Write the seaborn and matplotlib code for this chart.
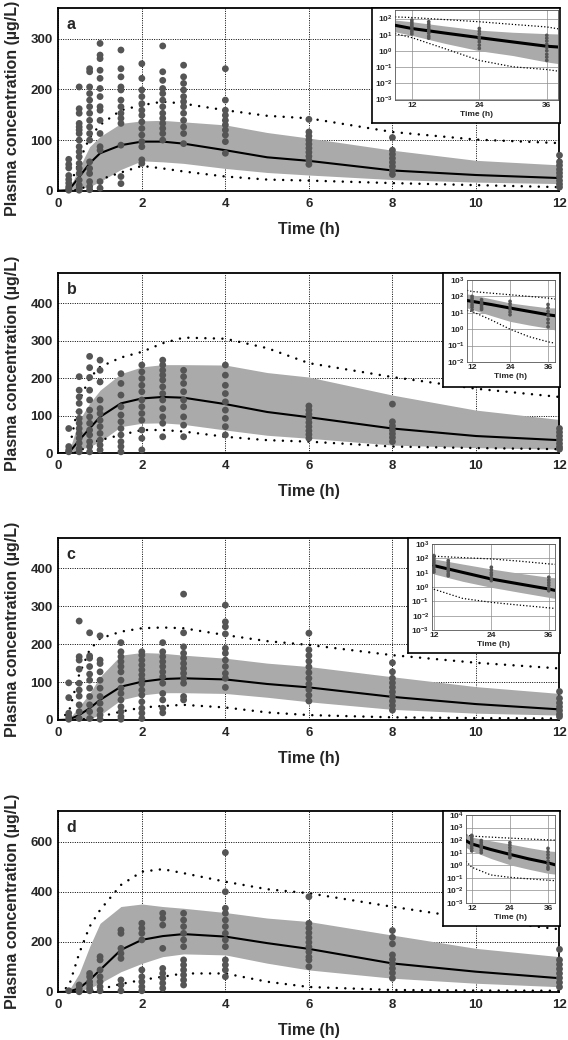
import numpy as np
import pandas as pd
import matplotlib
matplotlib.use("Agg")
import matplotlib.pyplot as plt
import seaborn as sns
from matplotlib.ticker import FuncFormatter, NullLocator


sns.set_style("white")
plt.rcParams["font.family"] = ["Liberation Sans", "DejaVu Sans"]
plt.rcParams["font.weight"] = "bold"
plt.rcParams["mathtext.fontset"] = "custom"
plt.rcParams["mathtext.rm"] = "Liberation Sans:bold"
plt.rcParams["mathtext.bf"] = "Liberation Sans:bold"


# Datos: curvas de simulación (0-12 h)

grid_t = [0, 0.25, 0.5, 0.75, 1, 1.5, 2, 2.5, 3, 4, 5, 6, 8, 10, 12]

a_median = [0, 1, 27, 54, 74, 90, 97, 97, 93, 80, 66, 59, 40, 31, 25]
a_p95 = [0, 3, 58, 105, 130, 159, 169, 176, 172, 159, 148, 143, 116, 101, 94]
a_p5 = [0, 0, 2, 12, 22, 36, 49, 44, 38, 28, 22, 20, 15, 11, 7]
a_hi = [0, 2, 45, 87, 107, 133, 138, 139, 136, 130, 115, 104, 80, 60, 51]
a_lo = [0, 0, 4, 8, 18, 42, 59, 57, 54, 44, 36, 31, 22, 17, 14]

b_median = [0, 1, 35, 66, 97, 133, 146, 150, 148, 131, 110, 96, 66, 46, 35]
b_p95 = [0, 5, 140, 200, 230, 255, 270, 293, 308, 305, 280, 240, 203, 172, 150]
b_p5 = [0, 0, 3, 27, 35, 49, 62, 62, 58, 44, 35, 31, 18, 14, 11]
b_hi = [0, 3, 88, 133, 168, 212, 230, 236, 236, 235, 215, 203, 155, 115, 90]
b_lo = [0, 0, 10, 18, 31, 71, 80, 81, 77, 62, 48, 40, 22, 15, 11]

c_median = [0, 1, 13, 31, 53, 88, 101, 108, 110, 107, 95, 86, 61, 42, 28]
c_p95 = [0, 20, 120, 185, 215, 233, 242, 244, 242, 224, 208, 198, 171, 151, 136]
c_p5 = [0, 0, 1, 4, 9, 22, 33, 37, 40, 33, 20, 13, 7, 5, 4]
c_hi = [0, 2, 35, 70, 114, 171, 178, 176, 171, 163, 150, 141, 114, 88, 70]
c_lo = [0, 0, 2, 4, 13, 53, 66, 72, 72, 70, 60, 48, 28, 18, 13]

d_median = [0, 1, 15, 48, 88, 168, 208, 223, 231, 221, 195, 172, 114, 81, 55]
d_p95 = [0, 21, 154, 261, 327, 427, 480, 490, 474, 440, 410, 394, 340, 290, 250]
d_p5 = [0, 0, 1, 5, 11, 32, 48, 61, 74, 74, 41, 20, 8, 6, 5]
d_hi = [0, 5, 74, 181, 274, 341, 351, 341, 334, 317, 295, 281, 227, 174, 141]
d_lo = [0, 0, 5, 15, 35, 81, 114, 141, 152, 148, 115, 88, 55, 35, 21]


# Datos: concentraciones observadas (0-12 h)

obs_t = [0.25, 0.5, 0.75, 1, 1.5, 2, 2.5, 3, 4, 6, 8, 12]

a_obs = [
    [62, 52, 45, 30, 22, 15, 8, 4, 1],
    [205, 162, 153, 133, 126, 120, 113, 100, 87, 77, 67, 54, 44, 34, 21, 11, 5, 1],
    [241, 235, 205, 192, 179, 166, 153, 139, 126, 113, 100, 57, 44, 34, 18, 8, 2],
    [291, 268, 261, 238, 222, 202, 186, 166, 159, 139, 113, 87, 80, 18, 5],
    [278, 241, 225, 205, 199, 179, 166, 153, 143, 133, 90, 28, 14],
    [251, 222, 199, 186, 172, 159, 149, 136, 123, 110, 97, 87, 61, 54],
    [286, 235, 218, 202, 192, 179, 166, 153, 143, 133, 123, 113, 100],
    [248, 225, 212, 199, 186, 176, 166, 153, 139, 126, 113, 93],
    [241, 179, 159, 149, 139, 130, 120, 110, 97, 74],
    [141, 116, 108, 100, 92, 84, 76, 68, 60, 52],
    [105, 80, 72, 64, 56, 48, 40, 32],
    [70, 57, 50, 42, 35, 28, 20, 13, 7],
]

b_obs = [
    [66, 18, 9, 4],
    [204, 168, 150, 133, 111, 93, 80, 66, 53, 40, 27, 13, 4],
    [258, 228, 202, 168, 142, 115, 97, 80, 62, 49, 31, 18, 4],
    [248, 221, 190, 142, 119, 106, 88, 71, 53, 35, 22, 9],
    [212, 186, 155, 124, 102, 84, 66, 49, 31, 18, 4],
    [235, 217, 199, 181, 164, 142, 124, 106, 88, 62, 40, 9],
    [248, 235, 221, 208, 195, 177, 159, 142, 119, 97, 80, 44],
    [221, 204, 186, 164, 142, 124, 97, 75, 44],
    [235, 208, 181, 159, 137, 115, 93, 71, 49],
    [126, 115, 104, 93, 82, 71, 60, 50, 40],
    [131, 84, 73, 62, 52, 42, 31],
    [66, 56, 46, 36, 26, 17, 11],
]

c_obs = [
    [98, 59, 18, 9, 2],
    [261, 167, 158, 134, 97, 79, 63, 40, 22, 4],
    [230, 169, 163, 141, 121, 105, 84, 62, 40, 22, 4],
    [222, 158, 149, 127, 105, 84, 62, 44, 26, 13, 2],
    [204, 180, 167, 154, 141, 127, 105, 84, 70, 53, 35, 22, 9, 2],
    [180, 171, 158, 145, 132, 119, 107, 95, 79, 66, 48, 31, 18, 4],
    [204, 180, 167, 154, 141, 127, 114, 97, 70, 53, 31, 19],
    [332, 230, 193, 176, 163, 149, 136, 123, 110, 97, 62, 53],
    [303, 259, 246, 227, 189, 176, 158, 141, 123, 110, 86],
    [229, 185, 170, 155, 140, 125, 110, 95, 80, 65, 50],
    [151, 127, 110, 98, 86, 74, 62, 50, 38, 26],
    [75, 57, 45, 35, 25, 15, 9],
]

d_obs = [
    [5],
    [28, 15, 5, 1],
    [74, 61, 41, 28, 15, 5],
    [141, 128, 88, 61, 41, 21, 5],
    [247, 234, 174, 154, 134, 48, 28, 5],
    [274, 254, 234, 208, 88, 61, 41, 21, 5],
    [314, 294, 267, 174, 94, 74, 55, 35, 15],
    [314, 287, 261, 234, 208, 181, 128, 108, 88, 68, 48, 28],
    [556, 400, 334, 314, 287, 261, 234, 208, 181, 128, 108, 88, 61],
    [380, 274, 255, 236, 217, 198, 180, 160, 140, 128, 101],
    [245, 218, 192, 148, 130, 112, 94, 76, 55],
    [170, 128, 110, 92, 74, 56, 38, 20],
]


# Datos: recuadros logarítmicos (hasta 36 h)

ins_obs_t = [12, 15, 24, 36]

ia_t = [9, 12, 18, 24, 30, 36, 38]
ia_median = [38, 24, 12.3, 6.5, 3.5, 1.9, 1.7]
ia_hi = [80, 63, 34, 19, 14, 11.5, 11]
ia_lo = [15, 9, 2.8, 1.0, 0.5, 0.2, 0.16]
ia_p95 = [126, 115, 85, 63, 43, 30, 23]
ia_p5 = [11.5, 6.5, 1.3, 0.25, 0.1, 0.068, 0.054]
ia_obs = [
    [80, 60, 45, 35, 28, 20, 15, 11],
    [63, 45, 32, 24, 17, 12, 8, 6],
    [24, 16, 11, 7, 5, 3.5, 2.2, 1.4],
    [9, 6, 4, 2.5, 1.6, 1.0, 0.6, 0.4, 0.25],
]

ib_t = [10.4, 12, 18, 24, 30, 36, 38.2]
ib_median = [56, 50, 32, 19.5, 12.2, 7.6, 6.6]
ib_hi = [141, 126, 71, 40, 28, 20, 20]
ib_lo = [20, 16, 6.8, 3.0, 1.8, 1.15, 0.9]
ib_p95 = [234, 200, 158, 126, 100, 79, 69]
ib_p5 = [14, 12, 3.7, 1.0, 0.35, 0.17, 0.14]
ib_obs = [
    [100, 75, 55, 42, 30, 22, 15],
    [63, 48, 36, 27, 20, 16],
    [50, 35, 24, 16, 11, 7.6],
    [32, 20, 12, 7, 4, 2.4, 1.4],
]

ic_t = [11.5, 12, 18, 24, 30, 36, 37.3]
ic_median = [35, 31, 10.5, 3.6, 1.6, 0.72, 0.58]
ic_hi = [100, 91, 40, 18, 9, 4.8, 4.4]
ic_lo = [9.5, 8.1, 2.5, 0.95, 0.42, 0.19, 0.16]
ic_p95 = [148, 141, 112, 91, 63, 41, 38]
ic_p5 = [1.0, 0.7, 0.16, 0.085, 0.054, 0.035, 0.032]
ic_obs = [
    [155, 110, 80, 55, 38, 25, 16, 11],
    [70, 50, 35, 25, 17, 12, 8, 6],
    [24, 16, 10, 7, 4.5, 2.8],
    [4.8, 3, 2, 1.3, 0.8, 0.55],
]

id_t = [10.2, 12, 18, 24, 30, 36, 38.2]
id_median = [89, 50, 18, 7.4, 3.2, 1.55, 1.1]
id_hi = [316, 174, 89, 49, 25, 14, 12.6]
id_lo = [26, 14, 3.5, 1.1, 0.48, 0.23, 0.2]
id_p95 = [269, 209, 174, 145, 123, 105, 100]
id_p5 = [2.1, 0.7, 0.17, 0.11, 0.083, 0.065, 0.06]
id_obs = [
    [240, 160, 110, 75, 50, 33, 22, 14],
    [93, 65, 45, 32, 22, 15, 10],
    [63, 40, 25, 15, 9, 6, 4],
    [22, 12, 7, 4, 2.2, 1.2, 0.7, 0.5],
]


# Estilo

BAND = "#aaaaaa"
POINT = "#555555"
DOT_MAIN = (0, (0.01, 3.4))
DOT_INSET = (0, (1, 1.6))

FIG_W, FIG_H = 568, 1040

fig = plt.figure(figsize=(FIG_W / 100, FIG_H / 100), dpi=100)


def caja(x0, y0, x1, y1):
    return [x0 / FIG_W, 1 - y1 / FIG_H, (x1 - x0) / FIG_W, (y1 - y0) / FIG_H]


def tabla(tiempos, grupos):
    return pd.DataFrame({
        "time": np.repeat(tiempos, [len(g) for g in grupos]),
        "conc": np.concatenate([np.asarray(g, dtype=float) for g in grupos]),
    })


def panel(pos, letra, ymax, ystep, med, p5, p95, lo, hi, obs, ylab_y=0.5):
    ax = fig.add_axes(caja(*pos))
    alto = pos[3] - pos[1]

    ax.fill_between(grid_t, lo, hi, color=BAND, lw=0, zorder=1)

    for curva in (p95, p5):
        sns.lineplot(x=grid_t, y=curva, ax=ax, color="black", lw=1.8,
                     linestyle=DOT_MAIN, dash_capstyle="round", zorder=2)

    sns.lineplot(x=grid_t, y=med, ax=ax, color="black", lw=1.5, zorder=3)

    sns.scatterplot(data=tabla(obs_t, obs), x="time", y="conc", ax=ax,
                    color=POINT, s=24, edgecolor="none", linewidth=0,
                    zorder=4, clip_on=False)

    ax.set_xlim(0, 12)
    ax.set_ylim(0, ymax)
    ax.set_xticks(range(0, 13, 2))
    ax.set_yticks(range(0, ymax, ystep))
    ax.grid(True, color="black", ls=(0, (1, 1.4)), lw=0.7)
    ax.set_axisbelow(True)
    ax.tick_params(length=0, labelsize=9.5)
    ax.tick_params(axis="x", pad=5)
    ax.tick_params(axis="y", pad=4)
    for s in ax.spines.values():
        s.set_color("black")
        s.set_linewidth(1.3)

    ax.set_xlabel("Time (h)", fontsize=11.5, fontweight="bold")
    ax.set_ylabel("Plasma concentration (µg/L)", fontsize=11.5,
                  fontweight="bold")
    ax.xaxis.set_label_coords(0.5, -31 / alto)
    ax.yaxis.set_label_coords(-0.077, ylab_y)

    ax.text(0.017, 1 - 21 / alto, letra, transform=ax.transAxes,
            fontsize=11.5, fontweight="bold", va="baseline", ha="left")
    return ax


def potencia(v, pos):
    return r"$\mathbf{10^{%d}}$" % int(round(np.log10(v)))


def recuadro(marco, interior, xlim, ylim, t, med, p5, p95, lo, hi, obs):
    fr = fig.add_axes(caja(*marco), zorder=5)
    fr.set_xticks([])
    fr.set_yticks([])
    fr.set_facecolor("white")
    for s in fr.spines.values():
        s.set_color("black")
        s.set_linewidth(1.2)

    ins = fig.add_axes(caja(*interior), zorder=6)
    ins.set_yscale("log")
    alto = interior[3] - interior[1]

    ins.fill_between(t, lo, hi, color=BAND, lw=0, zorder=1)
    for curva in (p95, p5):
        sns.lineplot(x=t, y=curva, ax=ins, color="black", lw=0.9,
                     linestyle=DOT_INSET, zorder=2)
    sns.lineplot(x=t, y=med, ax=ins, color="black", lw=2.2, zorder=3)
    sns.scatterplot(data=tabla(ins_obs_t, obs), x="time", y="conc", ax=ins,
                    color=POINT, s=7, edgecolor="none", linewidth=0,
                    zorder=4)

    ins.set_xlim(*xlim)
    ins.set_ylim(*ylim)
    ins.set_xticks([12, 24, 36])
    lo_dec = int(np.ceil(np.log10(ylim[0]) - 1e-6))
    hi_dec = int(np.floor(np.log10(ylim[1]) + 1e-6))
    ins.set_yticks([10.0 ** k for k in range(lo_dec, hi_dec + 1)])
    ins.yaxis.set_major_formatter(FuncFormatter(potencia))
    ins.yaxis.set_minor_locator(NullLocator())
    ins.grid(True, color="#8c8c8c", ls="-", lw=0.5)
    ins.set_axisbelow(True)
    ins.tick_params(length=0, labelsize=6, pad=1.5)
    for s in ins.spines.values():
        s.set_color("#555555")
        s.set_linewidth(0.6)

    ins.set_xlabel("Time (h)", fontsize=6, fontweight="bold")
    ins.set_ylabel("")
    ins.xaxis.set_label_coords(0.5, -11 / alto)


# Gráficas

panel((58.3, 8, 559.5, 190.7), "a", 361, 100,
      a_median, a_p5, a_p95, a_lo, a_hi, a_obs, ylab_y=0.45)
panel((58.3, 273, 559.5, 453.3), "b", 480, 100,
      b_median, b_p5, b_p95, b_lo, b_hi, b_obs)
panel((58.3, 538, 559.5, 720), "c", 480, 100,
      c_median, c_p5, c_p95, c_lo, c_hi, c_obs)
panel((58.3, 811, 559.5, 992), "d", 722, 200,
      d_median, d_p5, d_p95, d_lo, d_hi, d_obs)

recuadro((372, 8, 559.5, 123), (395, 9.5, 558, 100), (9, 38), (8.7e-4, 363),
         ia_t, ia_median, ia_p5, ia_p95, ia_lo, ia_hi, ia_obs)
recuadro((443, 273, 559.5, 387), (467, 280, 555, 362), (10.4, 38.2), (1e-2, 1e3),
         ib_t, ib_median, ib_p5, ib_p95, ib_lo, ib_hi, ib_obs)
recuadro((408, 538, 559.5, 653), (431.5, 544, 555, 630), (11.5, 37.3), (1e-3, 1e3),
         ic_t, ic_median, ic_p5, ic_p95, ic_lo, ic_hi, ic_obs)
recuadro((443, 811, 559.5, 926), (466, 815, 555, 903), (10.2, 38.2), (1e-3, 1e4),
         id_t, id_median, id_p5, id_p95, id_lo, id_hi, id_obs)

fig.savefig("out.png", dpi=100)
plt.close(fig)
